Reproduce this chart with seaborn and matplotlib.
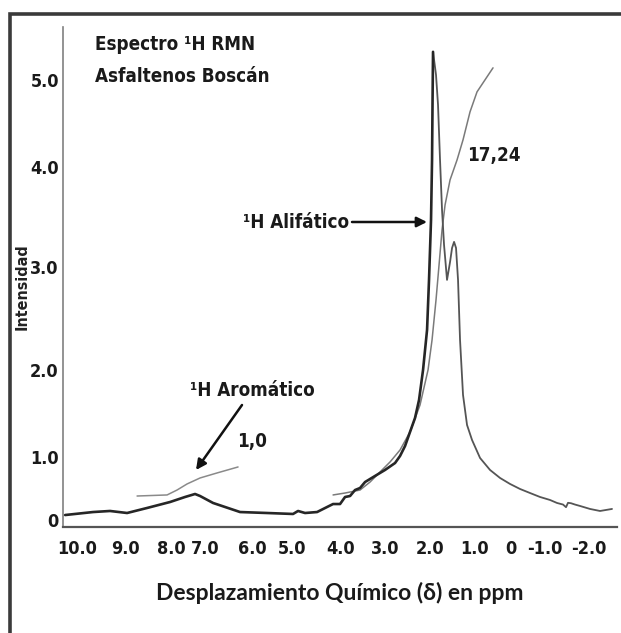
import matplotlib
matplotlib.use("Agg")
import matplotlib.pyplot as plt
import seaborn as sns
import pandas as pd
from matplotlib.patches import Rectangle

sns.set_style("white")
plt.rcParams['font.family'] = ['DejaVu Sans']
plt.rcParams['font.stretch'] = 'condensed'

# ---- data (ppm, intensity) ----
spec_left_ppm = [10.28, 9.625, 9.227, 8.828, 8.360, 7.820, 7.469, 7.235, 7.117, 6.813, 6.180,
                 5.547, 4.938, 4.821, 4.657, 4.375, 4.141, 4.000, 3.836, 3.719, 3.602, 3.485,
                 3.368, 3.250, 3.016, 2.782, 2.547, 2.430, 2.313, 2.196, 2.079, 1.985, 1.891,
                 1.797, 1.751, 1.704, 1.680, 1.668, 1.657]
spec_left_int = [0.136, 0.170, 0.182, 0.159, 0.216, 0.284, 0.341, 0.375, 0.352, 0.273, 0.170,
                 0.159, 0.148, 0.182, 0.159, 0.170, 0.227, 0.261, 0.261, 0.341, 0.352, 0.420,
                 0.443, 0.511, 0.580, 0.648, 0.727, 0.807, 0.920, 1.080, 1.239, 1.443, 1.784,
                 2.239, 2.807, 3.489, 4.170, 4.852, 5.398]

spec_right_ppm = [1.657, 1.587, 1.540, 1.493, 1.446, 1.399, 1.329, 1.258, 1.211, 1.164, 1.118,
                  1.071, 1.024, 0.954, 0.860, 0.743, 0.555, 0.321, 0.086, -0.148, -0.382,
                  -0.617, -0.851, -1.085, -1.249, -1.390, -1.460, -1.507, -1.577, -1.671,
                  -1.788, -2.023, -2.257, -2.538]
spec_right_int = [5.398, 5.136, 4.795, 4.170, 3.602, 3.205, 2.807, 3.011, 3.170, 3.239, 3.170,
                  2.807, 2.125, 1.500, 1.159, 0.989, 0.784, 0.648, 0.557, 0.489, 0.432,
                  0.386, 0.341, 0.307, 0.273, 0.255, 0.225, 0.275, 0.270, 0.255,
                  0.239, 0.205, 0.182, 0.205]

arom_int_ppm = [8.594, 7.891, 7.657, 7.422, 7.117, 6.719, 6.227]
arom_int_val = [0.352, 0.364, 0.420, 0.489, 0.557, 0.614, 0.682]

aliph_int_ppm = [4.000, 3.719, 3.368, 3.133, 2.899, 2.664, 2.430, 2.196, 1.962, 1.774, 1.680,
                 1.587, 1.516, 1.446, 1.375, 1.258, 1.094, 0.954, 0.790, 0.626, 0.438, 0.251]
aliph_int_val = [0.364, 0.386, 0.420, 0.511, 0.625, 0.739, 0.875, 1.080, 1.386, 1.784, 2.125,
                 2.580, 2.977, 3.375, 3.659, 3.943, 4.170, 4.398, 4.716, 4.943, 5.080, 5.216]

x_tick_pos = [10.0, 8.875, 7.797, 7.0, 5.899, 4.961, 3.836, 2.782, 1.727, 0.696, -0.171, -0.968, -2.0]
x_tick_labels = ["10.0", "9.0", "8.0", "7.0", "6.0", "5.0", "4.0", "3.0", "2.0", "1.0", "0", "-1.0", "-2.0"]
y_tick_pos = [0.08, 0.795, 1.784, 2.955, 4.09, 5.08]
y_tick_labels = ["0", "1.0", "2.0", "3.0", "4.0", "5.0"]

# ---- figure ----
fig = plt.figure(figsize=(6.21, 6.33), dpi=100)
fig.patch.set_facecolor("white")
fig.patches.append(Rectangle((10 / 621, -0.05), 1.2, 1 - 14 / 633 + 0.05, transform=fig.transFigure,
                             fill=False, edgecolor="#3a3a3a", linewidth=2.6, zorder=0))

ax = fig.add_axes([63 / 621, 1 - 527 / 633, (617 - 63) / 621, (527 - 27) / 633])
ax.set_facecolor("white")

def draw(xs, ys, color, lw, z):
    df = pd.DataFrame({"x": xs, "y": ys})
    sns.lineplot(data=df, x="x", y="y", sort=False, estimator=None, color=color,
                 linewidth=lw, ax=ax, zorder=z)

draw(arom_int_ppm, arom_int_val, "#8a8a8a", 1.1, 2)
draw(aliph_int_ppm, aliph_int_val, "#7a7a7a", 1.1, 2)
draw(spec_right_ppm, spec_right_int, "#555555", 1.3, 3)
draw(spec_left_ppm, spec_left_int, "#262626", 1.9, 4)

ax.set_xlim(10.33, -2.655)
ax.set_ylim(0, 5.68)
ax.set_xlabel("")
ax.set_ylabel("")

ax.set_xticks(x_tick_pos)
ax.set_xticklabels(x_tick_labels, fontsize=13, fontweight="bold", color="#1a1a1a")
ax.set_yticks(y_tick_pos)
ax.set_yticklabels(y_tick_labels, fontsize=13, fontweight="bold", color="#1a1a1a")
ax.tick_params(axis="both", length=0)
ax.tick_params(axis="x", pad=9)
ax.tick_params(axis="y", pad=3)

for s in ["top", "right"]:
    ax.spines[s].set_visible(False)
ax.spines["left"].set_color("#808080")
ax.spines["left"].set_linewidth(1.2)
ax.spines["bottom"].set_color("#555555")
ax.spines["bottom"].set_linewidth(1.6)

fig.text(340 / 621, 1 - 593 / 633, "Desplazamiento Químico (δ) en ppm", ha="center", va="center",
         fontsize=16.5, fontweight="bold", color="#1a1a1a", family=["Lato", "DejaVu Sans"],
         fontstretch="normal")
fig.text(22 / 621, 1 - 287 / 633, "Intensidad", rotation=90, ha="center", va="center",
         fontsize=11.5, fontweight="bold", color="#222222")

def atext(px, py, s, size=13.5, ha="left"):
    ax.text((px - 63) / 554, (527 - py) / 500, s, transform=ax.transAxes, ha=ha, va="center",
            fontsize=size, fontweight="bold", color="#1a1a1a")

atext(95, 45, "Espectro ¹H RMN")
atext(95, 76, "Asfaltenos Boscán")
atext(243, 222, "¹H Alifático")
atext(467, 155, "17,24")
atext(190, 390, "¹H Aromático")
atext(237, 442, "1,0")

def arrow(p0, p1):
    ax.annotate("", xy=((p1[0] - 63) / 554, (527 - p1[1]) / 500), xycoords="axes fraction",
                xytext=((p0[0] - 63) / 554, (527 - p0[1]) / 500), textcoords="axes fraction",
                arrowprops=dict(arrowstyle="-|>,head_length=0.6,head_width=0.3", color="#111111",
                                lw=1.8, shrinkA=0, shrinkB=0))

arrow((352, 222), (427, 222))
arrow((242, 405), (196, 470))

fig.savefig("out.png", dpi=100, facecolor="white")
